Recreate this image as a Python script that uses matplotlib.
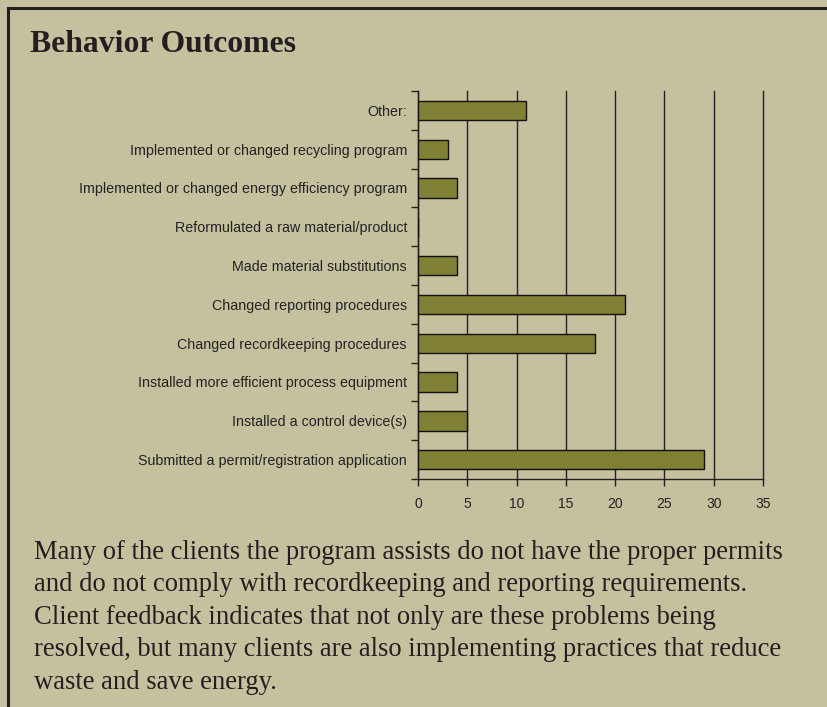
import numpy as np
import matplotlib as mpl
mpl.use('Agg')
import matplotlib.pyplot as plt
from matplotlib.lines import Line2D

categories = ["Other:",
              "Implemented or changed recycling program",
              "Implemented or changed energy efficiency program",
              "Reformulated a raw material/product",
              "Made material substitutions",
              "Changed reporting procedures",
              "Changed recordkeeping procedures",
              "Installed more efficient process equipment",
              "Installed a control device(s)",
              "Submitted a permit/registration application"]
counts = [11, 3, 4, 0, 4, 21, 18, 4, 5, 29]
xticks = [0, 5, 10, 15, 20, 25, 30, 35]

title = "Behavior Outcomes"
body = ("Many of the clients the program assists do not have the proper permits\n"
        "and do not comply with recordkeeping and reporting requirements.\n"
        "Client feedback indicates that not only are these problems being\n"
        "resolved, but many clients are also implementing practices that reduce\n"
        "waste and save energy.")

bg = "#c5c19f"
barcol = "#7f8034"
W, H = 827, 707

fig = plt.figure(figsize=(W/100, H/100), dpi=100, facecolor=bg)
ax = fig.add_axes([418/W, 1-479/H, (763-418)/W, (479-91)/H])
ax.set_facecolor(bg)

n = len(categories)
ypos = np.arange(n)
ax.barh(ypos, counts, height=0.5, color=barcol, edgecolor="#111111", linewidth=1.0, zorder=3)
ax.set_ylim(n-0.5, -0.5)
ax.set_xlim(0, 35)

ax.set_xticks(xticks)
ax.set_xticklabels([str(t) for t in xticks], fontsize=10, family="Liberation Sans", color="#222222")
ax.set_yticks(ypos)
ax.set_yticklabels(categories, fontsize=10.3, family="Liberation Sans", color="#222222")
ax.tick_params(axis="y", which="major", length=0, pad=8)
ax.set_yticks(np.arange(n+1)-0.5, minor=True)
ax.tick_params(axis="y", which="minor", length=5, width=1, color="#222222", direction="out")
ax.tick_params(axis="x", which="major", length=5, width=1, color="#222222", direction="out", pad=8)

ax.grid(axis="x", color="#222222", linewidth=1.0, zorder=0)
for gl in ax.get_xgridlines():
    gl.set_clip_on(False)
for s in ["top", "right"]:
    ax.spines[s].set_visible(False)
for s in ["left", "bottom"]:
    ax.spines[s].set_color("#222222")
    ax.spines[s].set_linewidth(1.0)

# page frame
fig.add_artist(Line2D([8/W, 8/W], [0, 1-8/H], color="#231f20", linewidth=2.2))
fig.add_artist(Line2D([8/W, 1], [1-8/H, 1-8/H], color="#231f20", linewidth=2.2))

fig.text(30/W, 1-44/H, title, fontsize=22.8, fontweight="bold", family="Liberation Serif",
         color="#231f20", va="center", ha="left")
fig.text(34/W, 1-540/H, body, fontsize=19.2, family="Liberation Serif", color="#231f20",
         va="top", ha="left", linespacing=1.39)

fig.savefig("out.png", dpi=100, facecolor=bg)
